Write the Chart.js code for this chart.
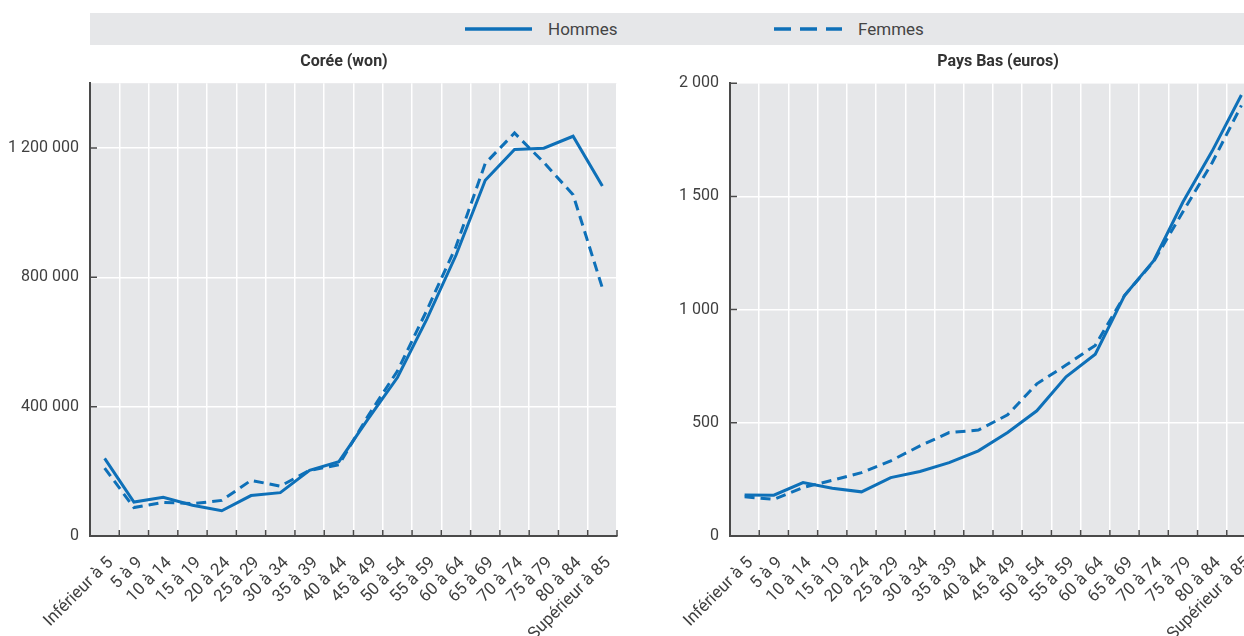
<!DOCTYPE html>
<html><head><meta charset="utf-8">
<script src="https://cdn.jsdelivr.net/npm/chart.js@4"></script>
<style>
html,body{margin:0;padding:0;width:1244px;height:636px;overflow:hidden;background:#fff;font-family:Roboto, sans-serif;}
#legend{position:absolute;left:90px;top:13px;width:1154px;height:32px;background:#e6e7e9;}
.lt{position:absolute;top:0;height:32px;line-height:32px;font-size:17px;color:#444;}
.ls{position:absolute;top:0;}
#w1{position:absolute;left:0;top:45px;}
#w2{position:absolute;left:660px;top:45px;}
</style></head>
<body>
<div id="legend">
  <svg class="ls" style="left:375px" width="70" height="32"><line x1="0" y1="16" x2="67" y2="16" stroke="#0e70b8" stroke-width="3.5"/></svg>
  <div class="lt" style="left:458px">Hommes</div>
  <svg class="ls" style="left:684px" width="70" height="32"><line x1="0" y1="16" x2="68" y2="16" stroke="#0e70b8" stroke-width="3.5" stroke-dasharray="17 9"/></svg>
  <div class="lt" style="left:768px">Femmes</div>
</div>
<div id="w1"><canvas id="c1" width="688" height="591"></canvas></div>
<div id="w2"><canvas id="c2" width="676" height="591"></canvas></div>
<script>
const CATEGORIES = ['Inférieur à 5','5 à 9','10 à 14','15 à 19','20 à 24','25 à 29','30 à 34','35 à 39','40 à 44','45 à 49','50 à 54','55 à 59','60 à 64','65 à 69','70 à 74','75 à 79','80 à 84','Supérieur à 85'];
const KOREA_HOMMES = [240000,105000,120000,95000,78000,125000,134000,203000,230000,362000,490000,670000,868000,1100000,1195000,1199000,1236000,1082000];
const KOREA_FEMMES = [210000,88000,104000,100000,110000,172000,154000,203000,220000,372000,510000,697000,895000,1152000,1246000,1155000,1055000,767000];
const KOREA_TICKS = [0,400000,800000,1200000];
const PB_HOMMES = [181,180,236,211,195,258,285,324,376,457,553,703,803,1062,1216,1475,1700,1948];
const PB_FEMMES = [173,162,214,246,280,332,398,457,468,535,672,755,842,1062,1213,1432,1649,1902];
const PB_TICKS = [0,500,1000,1500,2000];

const BLUE = '#0e70b8';
const AXIS = '#4a4a4a';
const TXT = '#404040';
const FONT = 'Roboto';

function fmt(v){ return String(v).replace(/\B(?=(\d{3})+(?!\d))/g,' '); }

const plotBg = {
  id:'plotBg',
  beforeDraw(chart){
    const a = chart.chartArea, ctx = chart.ctx;
    ctx.save(); ctx.fillStyle = '#e6e7e9';
    ctx.fillRect(a.left, a.top, a.right-a.left, a.bottom-a.top);
    ctx.restore();
  }
};
const innerTicks = {
  id:'innerTicks',
  beforeDatasetsDraw(chart){
    const ctx = chart.ctx, a = chart.chartArea;
    const xs = chart.scales.x, ys = chart.scales.y;
    ctx.save(); ctx.strokeStyle = AXIS; ctx.lineWidth = 1.5;
    ctx.beginPath();
    for (let i=1;i<=xs.ticks.length;i++){
      const p = i<xs.ticks.length ? (xs.getPixelForTick(i-1)+xs.getPixelForTick(i))/2 : a.right;
      ctx.moveTo(p, a.bottom); ctx.lineTo(p, a.bottom-6);
    }
    ys.ticks.forEach(t=>{
      const p = ys.getPixelForValue(t.value);
      ctx.moveTo(a.left, p); ctx.lineTo(a.left+7, p);
    });
    ctx.stroke(); ctx.restore();
  }
};

function makeChart(id, title, hommes, femmes, yMax, yTicks, yWidth, rightSpace){
  return new Chart(document.getElementById(id), {
    type:'line',
    data:{ labels: CATEGORIES, datasets:[
      {label:'Hommes', data:hommes, borderColor:BLUE, borderWidth:3, pointRadius:0, tension:0, fill:false},
      {label:'Femmes', data:femmes, borderColor:BLUE, borderWidth:3, borderDash:[10,6], pointRadius:0, tension:0, fill:false}
    ]},
    options:{
      responsive:false, animation:false,
      layout:{padding:0},
      plugins:{
        legend:{display:false}, tooltip:{enabled:false},
        title:{display:true, text:title, color:'#333', font:{family:FONT,size:16,weight:'bold'}, padding:{top:7,bottom:12}}
      },
      scales:{
        x:{
          offset:true,
          grid:{offset:true, color:'#ffffff', lineWidth:1.5, drawTicks:false},
          border:{color:AXIS, width:2},
          ticks:{autoSkip:false, minRotation:45, maxRotation:45, padding:17, labelOffset:6, color:TXT, font:{family:FONT,size:17}},
          afterFit(s){ s.height = 100; }
        },
        y:{
          min:0, max:yMax,
          grid:{color:'#ffffff', lineWidth:1.5, drawTicks:false},
          border:{color:AXIS, width:2},
          ticks:{padding:11, color:TXT, font:{family:FONT,size:16}, callback:(v)=>fmt(v)},
          afterBuildTicks(s){ s.ticks = yTicks.map(v=>({value:v})); },
          afterFit(s){ s.width = yWidth; }
        },
        space:{
          type:'linear', position:'right', display:true,
          grid:{display:false}, border:{display:false}, ticks:{display:false},
          afterFit(s){ s.width = rightSpace; }
        }
      }
    },
    plugins:[plotBg, innerTicks]
  });
}

makeChart('c1','Corée (won)', KOREA_HOMMES, KOREA_FEMMES, 1400000, KOREA_TICKS, 90, 71);
makeChart('c2','Pays Bas (euros)', PB_HOMMES, PB_FEMMES, 2000, PB_TICKS, 70, 80);
</script>
</body></html>
